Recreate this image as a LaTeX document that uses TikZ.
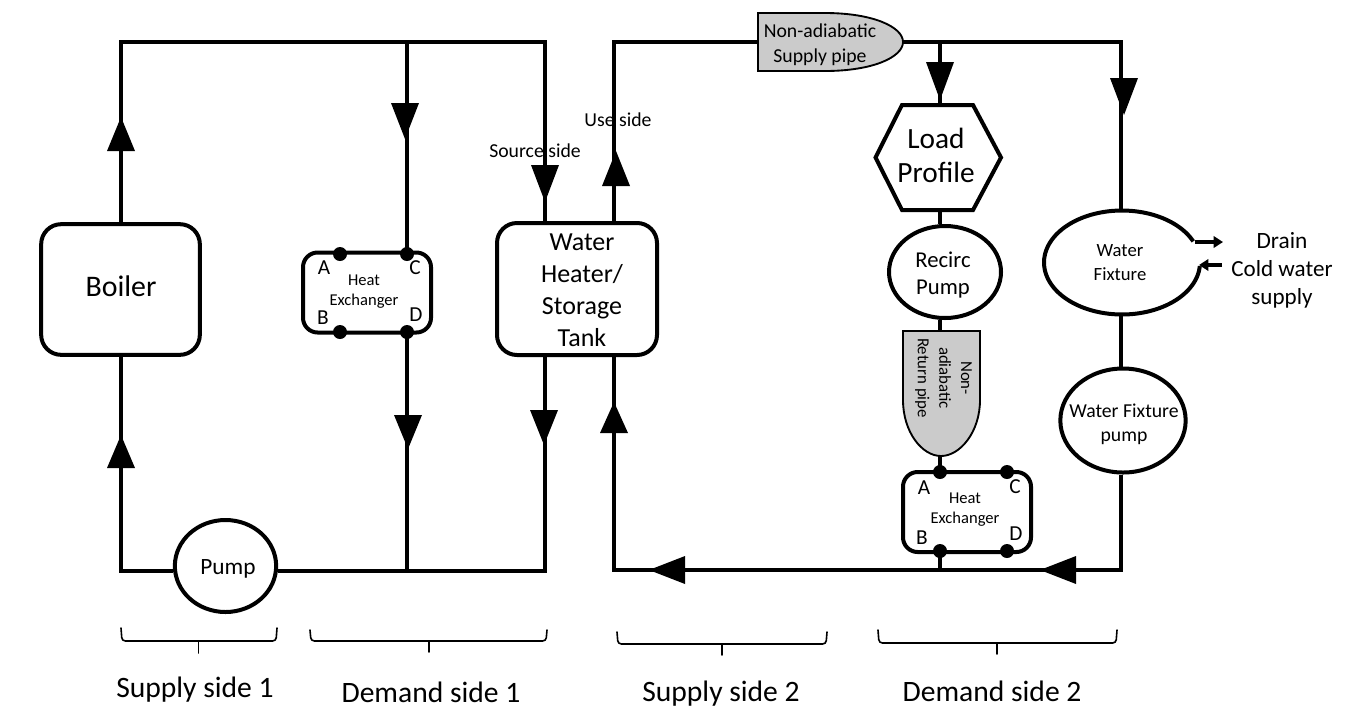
\documentclass[tikz,border=0pt]{standalone}
\usepackage{fontspec}
\setmainfont{Carlito}
\usetikzlibrary{arrows.meta,shapes.geometric}
\newcommand{\fs}[2]{\fontsize{#1}{#2}\selectfont}
\definecolor{graypipe}{HTML}{CBCBCB}
\tikzset{
  pipe/.style={line width=3pt,line join=miter},
  flowhead/.style={fill=black,draw=none},
  box/.style={draw,line width=3pt,rounded corners=15pt,fill=white,inner sep=0pt},
  hx/.style={draw,line width=3pt,rounded corners=11pt,fill=white,inner sep=0pt,minimum width=96pt,minimum height=60pt},
  oval/.style={draw,ellipse,line width=3pt,fill=white,inner sep=0pt},
  port/.style={circle,fill=black,inner sep=0pt,minimum size=10.5pt},
  grayshape/.style={draw,line width=1.4pt,fill=graypipe},
  txt/.style={inner sep=0pt,align=center,text=black},
  brace/.style={line width=1.2pt,line cap=round,rounded corners=2.5pt},
  small/.style={line width=2.6pt,-{Triangle[length=7pt,width=8.5pt]}}
}
\begin{document}
\begin{tikzpicture}[x=0.75pt,y=-0.75pt]
\useasboundingbox (0,0) rectangle (1355,726);
% corners
\coordinate (a1) at (121,42);
\coordinate (a2) at (407,42);
\coordinate (a3) at (545,42);
\coordinate (a4) at (121,571);
\coordinate (a5) at (407,571);
\coordinate (a6) at (545,571);
\coordinate (b1) at (614,42);
\coordinate (b2) at (614,570);
\coordinate (b3) at (1121,42);
\coordinate (b4) at (1121,570);
\coordinate (b5) at (940,42);
\coordinate (b6) at (940,570);
\coordinate (sw) at (758,42);
\coordinate (se) at (903,42);
\coordinate (rn) at (940,331);
\coordinate (rs) at (940,456);
\coordinate (loadn) at (940,105);
\coordinate (loads) at (940,210);
\coordinate (fixn) at (1121,211);
\coordinate (fixs) at (1121,314);
% nodes
\node[box,minimum width=119pt,minimum height=98pt] (boiler) at (120.5,289.5) {};
\node[box,minimum width=120pt,minimum height=99pt] (heater) at (577,289) {};
\node[oval,minimum width=76pt,minimum height=69pt] (pump) at (225.5,566) {};
\node[hx] (hx1) at (367,292.5) {};
\node[hx] (hx2) at (967,512) {};
\node[oval,minimum width=84pt,minimum height=69pt] (recirc) at (945,272) {};
\node[oval,minimum width=94pt,minimum height=78pt] (wfpump) at (1123,420.5) {};
% pipes
\draw[pipe] (boiler.north -| a1) -- (a1) -- (a3) -- (a3 |- heater.north);
\draw[pipe] (a2) -- (a2 |- hx1.north);
\draw[pipe] (a2 |- hx1.south) -- (a5);
\draw[pipe] (boiler.south -| a4) -- (a4) -- (a4 -| pump.west);
\draw[pipe] (a6 -| pump.east) -- (a6) -- (a6 |- heater.south);
\draw[pipe] (heater.north -| b1) -- (b1) -- (sw);
\draw[pipe] (se) -- (b3) -- (fixn);
\draw[pipe] (fixs) -- (wfpump.north -| fixs);
\draw[pipe] (wfpump.south -| b4) -- (b4) -- (b2) -- (b2 |- heater.south);
\draw[pipe] (b5) -- (loadn);
\draw[pipe] (loads) -- (b5 |- recirc.north);
\draw[pipe] (b5 |- recirc.south) -- (rn);
\draw[pipe] (rs) -- (rs |- hx2.north);
\draw[pipe] (rs |- hx2.south) -- (b6);
% load profile hexagon
\draw[pipe,fill=white] (902,105) -- (973,105) -- (1001,157.5) -- (973,210) -- (902,210) -- (875.5,157.5) -- cycle;
% arrowheads
\fill[flowhead] (121,117) -- (107,151) -- (135,151) -- cycle;
\fill[flowhead] (121,435) -- (107,468) -- (135,468) -- cycle;
\fill[flowhead] (405,139) -- (391,103) -- (419,103) -- cycle;
\fill[flowhead] (408,449) -- (394,415) -- (422,415) -- cycle;
\fill[flowhead] (545,202) -- (531,165) -- (559,165) -- cycle;
\fill[flowhead] (544,445) -- (530,410) -- (558,410) -- cycle;
\fill[flowhead] (616,151) -- (602,186) -- (630,186) -- cycle;
\fill[flowhead] (614,402) -- (600,433) -- (628,433) -- cycle;
\fill[flowhead] (940,100) -- (926,62) -- (954,62) -- cycle;
\fill[flowhead] (1124,115) -- (1110,78) -- (1138,78) -- cycle;
\fill[flowhead] (649,570) -- (685,556) -- (685,584) -- cycle;
\fill[flowhead] (1040,570) -- (1076,556) -- (1076,584) -- cycle;
% gray pipes
\draw[grayshape] (758,13) -- (825,13) .. controls (873,13) and (903,27) .. (903,42) .. controls (903,57) and (873,71) .. (825,71) -- (758,71) -- cycle;
\draw[grayshape] (903,331) -- (980,331) -- (980,400) .. controls (980,432) and (960,456) .. (941,456) .. controls (922,456) and (903,432) .. (903,400) -- cycle;
% water fixture
\draw[pipe] plot[smooth,domain=4:336,samples=60] ({1122+78*cos(\x)},{262.5+52*sin(\x)});
\coordinate (drainstart) at (1195,242);
\coordinate (drainend) at (1223,242);
\coordinate (coldstart) at (1222,265);
\coordinate (coldend) at (1199,265);
\draw[small] (drainstart) -- (drainend);
\draw[small] (coldstart) -- (coldend);
% ports
\node[port] (pa) at (340,254) {};
\node[port] (pb) at (340,332) {};
\node[port] (pc) at (407,254) {};
\node[port] (pd) at (407,332) {};
\node[port] (qa) at (940,472) {};
\node[port] (qb) at (940,551) {};
\node[port] (qc) at (1007,472) {};
\node[port] (qd) at (1007,551) {};
% braces
\draw[brace] (121,628) -- (122,641) -- (276,641) -- (277,628);
\draw[brace] (198.5,641) -- (198.5,653);
\draw[brace] (310,630) -- (311,641) -- (546,641) -- (547,630);
\draw[brace] (429,641) -- (429,652);
\draw[brace] (617,632) -- (618,644) -- (826,644) -- (827,632);
\draw[brace] (722,644) -- (722,655);
\draw[brace] (878,630) -- (879,643) -- (1116,643) -- (1117,630);
\draw[brace] (997,643) -- (997,654);
% texts
\node[txt,font=\fs{22.4}{26}] (tboiler) at (121,286) {Boiler};
\node[txt,font=\fs{17.5}{20}] (tpump) at (228,569) {Pump};
\node[txt,font=\fs{12.4}{15}] (thx1) at (364,292) {Heat\\Exchanger};
\node[txt,font=\fs{16}{16}] (la) at (324,268) {A};
\node[txt,font=\fs{16}{16}] (lb) at (323,318) {B};
\node[txt,font=\fs{16}{16}] (lc) at (415,268) {C};
\node[txt,font=\fs{16}{16}] (ld) at (416,315) {D};
\node[txt,font=\fs{12.4}{15}] (thx2) at (965,510) {Heat\\Exchanger};
\node[txt,font=\fs{16}{16}] (ma) at (924,488) {A};
\node[txt,font=\fs{16}{16}] (mb) at (922,538) {B};
\node[txt,font=\fs{16}{16}] (mc) at (1015,487) {C};
\node[txt,font=\fs{16}{16}] (md) at (1016,534) {D};
\node[txt,font=\fs{19.5}{24}] (theater) at (582,290) {Water\\Heater/\\Storage\\Tank};
\node[txt,font=\fs{14.8}{18}] (tsource) at (535,151) {Source side};
\node[txt,font=\fs{14.8}{18}] (tuse) at (618,120) {Use side};
\node[txt,font=\fs{14.8}{18.5}] (tsupply) at (820,44.5) {Non-adiabatic\\Supply pipe};
\node[txt,font=\fs{22}{26}] (tload) at (936,155.5) {Load\\Profile};
\node[txt,font=\fs{17}{20}] (trecirc) at (943,275) {Recirc\\Pump};
\node[txt,font=\fs{12.6}{16.2},rotate=-90] (treturn) at (943.5,378) {Non-\\adiabatic\\Return pipe};
\node[txt,font=\fs{14}{18}] (tfix) at (1120,263) {Water\\Fixture};
\node[txt,font=\fs{14.8}{18}] (tfixp) at (1124,424) {Water Fixture\\pump};
\node[txt,font=\fs{17.5}{21}] (tdrain) at (1282,241) {Drain};
\node[txt,font=\fs{17.3}{21}] (tcold) at (1282,284) {Cold water\\supply};
\node[txt,font=\fs{22.2}{24}] (s1) at (195,690) {Supply side 1};
\node[txt,font=\fs{22.2}{24}] (d1) at (431,692) {Demand side 1};
\node[txt,font=\fs{22.2}{24}] (s2) at (721,694) {Supply side 2};
\node[txt,font=\fs{22.2}{24}] (d2) at (992,691) {Demand side 2};
\end{tikzpicture}
\end{document}
